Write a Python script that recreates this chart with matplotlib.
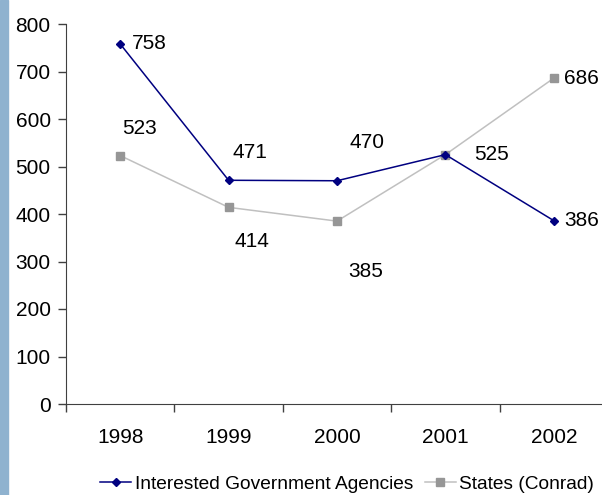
import matplotlib.pyplot as plt
import matplotlib.patches as mpatches

years = ['1998', '1999', '2000', '2001', '2002']
agencies = [758, 471, 470, 525, 386]
states = [523, 414, 385, 525, 686]

# label offsets in pixels (dx, dy), None = no label
agency_offsets = [(12, 0), (21, 28), (30, 38), (46, 0), (10, 0)]
agency_ha = ['left', 'center', 'center', 'center', 'left']
state_offsets = [(19, 27), (23, -34), (29, -50), None, (10, 0)]
state_ha = ['center', 'center', 'center', 'center', 'left']

plt.rcParams['font.family'] = ['Liberation Sans', 'DejaVu Sans']
fs = 15

fig = plt.figure(figsize=(6.02, 4.95), dpi=100)
fig.patches.append(mpatches.Rectangle((0, 0), 8 / 602, 1, transform=fig.transFigure,
                                      color='#8fb2cf', zorder=0))

ax = fig.add_axes([66 / 602, 91 / 495, 542 / 602, 380 / 495])
x = list(range(len(years)))
l1, = ax.plot(x, agencies, color='#000080', lw=1.1, marker='D', ms=4.5,
              label='Interested Government Agencies', zorder=3)
l2, = ax.plot(x, states, color='#c0c0c0', lw=1.1, marker='s', ms=6,
              mfc='#969696', mec='#969696', label='States (Conrad)', zorder=2)

for i, v in enumerate(agencies):
    off = agency_offsets[i]
    if off:
        ax.annotate(str(v), (i, v), xytext=off, textcoords='offset pixels',
                    ha=agency_ha[i], va='center', fontsize=fs)
for i, v in enumerate(states):
    off = state_offsets[i]
    if off:
        ax.annotate(str(v), (i, v), xytext=off, textcoords='offset pixels',
                    ha=state_ha[i], va='center', fontsize=fs)

ax.set_xlim(-0.5, len(years) - 0.5)
ax.set_ylim(0, 800)
ax.set_yticks(range(0, 801, 100))
ax.set_xticks([i - 0.5 for i in range(len(years) + 1)])
ax.set_xticklabels([])
ax.set_xticks(x, minor=True)
ax.set_xticklabels(years, minor=True)
ax.tick_params(axis='x', which='minor', length=0, pad=17, labelsize=fs)
ax.tick_params(axis='both', which='major', length=6, width=1, color='#404040', labelsize=fs)
ax.tick_params(axis='y', pad=5)

for s in ['top', 'right']:
    ax.spines[s].set_visible(False)
for s in ['left', 'bottom']:
    ax.spines[s].set_color('#404040')

fig.legend(handles=[l1, l2], loc='lower center', bbox_to_anchor=(0.577, -0.03),
           ncol=2, frameon=False, fontsize=13.8, handlelength=1.6,
           handletextpad=0.2, columnspacing=0.6)

fig.savefig('out.png', dpi=100)
